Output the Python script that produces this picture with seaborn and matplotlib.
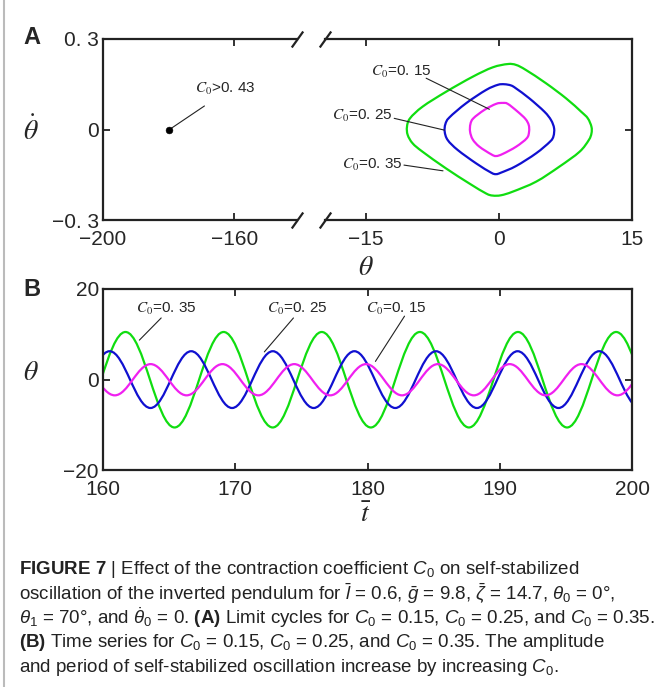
import numpy as np
import matplotlib.pyplot as plt
import seaborn as sns
from matplotlib.path import Path
from matplotlib.patches import PathPatch
from matplotlib.lines import Line2D

sns.set_style("ticks")
plt.rcParams['font.family'] = ['Liberation Sans', 'DejaVu Sans']
plt.rcParams['mathtext.fontset'] = 'custom'
plt.rcParams['mathtext.rm'] = 'Liberation Sans'
plt.rcParams['mathtext.it'] = 'Liberation Sans:italic'
plt.rcParams['mathtext.bf'] = 'Liberation Sans:bold'

# ---- data: limit cycles (theta, theta_dot) ----
c35_theta = [1.00, 1.94, 3.06, 5.32, 7.58, 9.27, 10.02, 10.43, 10.43, 10.13, 9.08, 6.82, 4.19, 1.56,
             0.24, -0.70, -1.45, -3.33, -5.96, -8.59, -9.72, -10.28, -10.36, -10.02, -8.59, -5.96, -2.95, -0.70]
c35_dtheta = [0.217, 0.214, 0.197, 0.153, 0.103, 0.059, 0.037, 0.009, -0.013, -0.035, -0.074, -0.123, -0.173, -0.206,
              -0.218, -0.219, -0.212, -0.179, -0.129, -0.074, -0.046, -0.018, 0.009, 0.037, 0.076, 0.125, 0.175, 0.206]
c25_theta = [0.62, 1.37, 1.94, 3.44, 5.13, 5.88, 6.22, 6.15, 5.77, 4.19, 1.94, 0.24,
             -0.32, -0.88, -2.58, -4.64, -5.77, -6.11, -6.03, -5.58, -3.70, -1.45, -0.13]
c25_dtheta = [0.150, 0.146, 0.136, 0.103, 0.059, 0.031, 0.004, -0.022, -0.040, -0.079, -0.121, -0.143,
              -0.148, -0.143, -0.112, -0.068, -0.035, -0.007, 0.018, 0.040, 0.087, 0.131, 0.148]
c15_theta = [0.43, 1.00, 2.12, 2.99, 3.36, 3.40, 3.14, 1.94, 0.43, -0.32, -0.88, -2.20, -2.95, -3.25,
             -3.21, -2.88, -1.64, -0.32]
c15_dtheta = [0.088, 0.085, 0.059, 0.035, 0.015, -0.007, -0.029, -0.057, -0.081, -0.088, -0.082, -0.057, -0.033, -0.007,
              0.018, 0.037, 0.065, 0.085]
fixed_point = [-180, 0]

# ---- data: time series extrema (t, theta) ----
g_t = [157.99, 161.70, 165.41, 169.12, 172.83, 176.54, 180.25, 183.96, 187.67, 191.38, 195.09, 198.80, 202.51]
g_v = [-10.6, 10.5, -10.6, 10.5, -10.6, 10.5, -10.6, 10.5, -10.6, 10.5, -10.6, 10.5, -10.6]
b_t = [157.42, 160.50, 163.59, 166.67, 169.76, 172.84, 175.93, 179.01, 182.10, 185.18, 188.27, 191.35, 194.44, 197.52, 200.61]
b_v = [-6.3, 6.25, -6.3, 6.25, -6.3, 6.25, -6.3, 6.25, -6.3, 6.25, -6.3, 6.25, -6.3, 6.25, -6.3]
m_t = [158.17, 160.89, 163.60, 166.32, 169.03, 171.75, 174.46, 177.18, 179.89, 182.61, 185.32, 188.04, 190.75,
       193.47, 196.18, 198.90, 201.61]
m_v = [3.4, -3.5, 3.4, -3.5, 3.4, -3.5, 3.4, -3.5, 3.4, -3.5, 3.4, -3.5, 3.4, -3.5, 3.4, -3.5, 3.4]

GREEN, BLUE, MAGENTA = '#10dd10', '#1010d0', '#f020f0'
INK = '#222222'


def smooth_closed(xs, ys):
    # closed smooth curve through the read points (Catmull-Rom as cubic Bezier)
    p = np.column_stack([xs, ys]).astype(float)
    n = len(p)
    verts, codes = [p[0]], [Path.MOVETO]
    for i in range(n):
        p0, p1, p2, p3 = p[i - 1], p[i], p[(i + 1) % n], p[(i + 2) % n]
        verts += [p1 + (p2 - p0) / 6, p2 - (p3 - p1) / 6, p2]
        codes += [Path.CURVE4] * 3
    return Path(verts, codes)


def wave(ts, vs):
    # smooth curve between successive extrema, flat at each extremum
    verts, codes = [(ts[0], vs[0])], [Path.MOVETO]
    for t0, v0, t1, v1 in zip(ts[:-1], vs[:-1], ts[1:], vs[1:]):
        h = 0.3634 * (t1 - t0)
        verts += [(t0 + h, v0), (t1 - h, v1), (t1, v1)]
        codes += [Path.CURVE4] * 3
    return Path(verts, codes)


W, H = 662, 687
fig = plt.figure(figsize=(W / 100, H / 100), dpi=100)


def box(x0, y0, x1, y1):
    return [x0 / W, 1 - y1 / H, (x1 - x0) / W, (y1 - y0) / H]


axL = fig.add_axes(box(103, 39, 296.7, 220))
axR = fig.add_axes(box(325, 39, 632, 220))
axB = fig.add_axes(box(103, 289, 632, 470))

for ax in (axL, axR, axB):
    for s in ax.spines.values():
        s.set_linewidth(1.6)
        s.set_color(INK)
    ax.tick_params(direction='in', length=5, width=1.3, color=INK, labelsize=15, pad=3, top=True)
    ax.tick_params(axis='x', pad=7)

# panel A, left part of the broken axis
axL.set_xlim(-200, -141)
axL.set_ylim(-0.3, 0.3)
axL.spines['right'].set_visible(False)
axL.set_xticks([-200, -160], ['\u2212200', '\u2212160'])
axL.set_yticks([-0.3, 0, 0.3], ['\u22120. 3', '0', '0. 3'])
axL.tick_params(right=False)
sns.scatterplot(x=[fixed_point[0]], y=[fixed_point[1]], ax=axL, color='black', s=24, edgecolor='black', zorder=5)
axL.plot([-179.2, -169.1], [0.004, 0.078], color=INK, lw=0.8)
axL.text(-162.7, 0.136, r'$\mathit{C}_0$>0. 43', ha='center', va='center', fontsize=11, math_fontfamily='stix')

# panel A, right part
axR.set_xlim(-19.6, 15)
axR.set_ylim(-0.3, 0.3)
axR.spines['left'].set_visible(False)
axR.set_xticks([-15, 0, 15], ['\u221215', '0', '15'])
axR.set_yticks([-0.3, 0, 0.3])
axR.tick_params(left=False, right=True, labelleft=False, labelright=False)
for xs, ys, col in [(c35_theta, c35_dtheta, GREEN), (c25_theta, c25_dtheta, BLUE), (c15_theta, c15_dtheta, MAGENTA)]:
    axR.add_patch(PathPatch(smooth_closed(xs, ys), fill=False, ec=col, lw=1.6))

notesA = [('0. 15', (-11.05, 0.190), (-8.2, 0.170), (-1.07, 0.067)),
          ('0. 25', (-15.4, 0.046), (-11.8, 0.037), (-6.15, -0.002)),
          ('0. 35', (-14.3, -0.118), (-10.7, -0.118), (-6.3, -0.137))]
for lab, txy, p0, p1 in notesA:
    axR.text(*txy, r'$\mathit{C}_0$=' + lab, ha='center', va='center', fontsize=11, math_fontfamily='stix')
    axR.plot([p0[0], p1[0]], [p0[1], p1[1]], color=INK, lw=0.8)

# break marks
slash = dict(marker=[(-1, -1.4), (1, 1.4)], markersize=11.5, linestyle='none', color=INK,
             mec=INK, mew=1.6, clip_on=False)
axL.plot([1, 1], [0, 1], transform=axL.transAxes, **slash)
axR.plot([0, 0], [0, 1], transform=axR.transAxes, **slash)

# panel B
axB.set_xlim(160, 200)
axB.set_ylim(-20, 20)
axB.set_xticks([160, 170, 180, 190, 200])
axB.set_yticks([-20, 0, 20], ['\u221220', '0', '20'])
axB.tick_params(right=True)
for ts, vs, col in [(g_t, g_v, GREEN), (b_t, b_v, BLUE), (m_t, m_v, MAGENTA)]:
    axB.add_patch(PathPatch(wave(ts, vs), fill=False, ec=col, lw=1.6))

notesB = [('0. 35', (164.8, 15.6), (164.4, 13.6), (162.75, 8.7)),
          ('0. 25', (174.7, 15.6), (174.4, 13.6), (172.2, 6.1)),
          ('0. 15', (182.2, 15.6), (182.8, 14.0), (180.6, 4.0))]
for lab, txy, p0, p1 in notesB:
    axB.text(*txy, r'$\mathit{C}_0$=' + lab, ha='center', va='center', fontsize=11, math_fontfamily='stix')
    axB.plot([p0[0], p1[0]], [p0[1], p1[1]], color=INK, lw=0.8)

# labels
def ftext(x, y, s, **kw):
    fig.text(x / W, 1 - y / H, s, ha='center', va='center', **kw)

ftext(32, 38, 'A', fontsize=17, fontweight='bold')
ftext(32, 289, 'B', fontsize=17, fontweight='bold')
ftext(31, 131, r'$\dot{\theta}$', fontsize=20, math_fontfamily='stix')
ftext(366, 268, r'$\theta$', fontsize=20, math_fontfamily='stix')
ftext(31, 373, r'$\theta$', fontsize=20, math_fontfamily='stix')
ftext(366, 515, r'$\bar{t}$', fontsize=20, math_fontfamily='stix')

caption = [
    r'$\mathbf{FIGURE\ 7}$ | Effect of the contraction coefficient $C_0$ on self-stabilized',
    r'oscillation of the inverted pendulum for $\bar{l}$ = 0.6, $\bar{g}$ = 9.8, $\bar{\zeta}$ = 14.7, $\theta_0$ = 0°,',
    r'$\theta_1$ = 70°, and $\dot{\theta}_0$ = 0. $\mathbf{(A)}$ Limit cycles for $C_0$ = 0.15, $C_0$ = 0.25, and $C_0$ = 0.35.',
    r'$\mathbf{(B)}$ Time series for $C_0$ = 0.15, $C_0$ = 0.25, and $C_0$ = 0.35. The amplitude',
    r'and period of self-stabilized oscillation increase by increasing $C_0$.',
]
for i, line in enumerate(caption):
    fig.text(19 / W, 1 - (569 + 24.6 * i) / H, line, ha='left', va='center', fontsize=13.5, color=INK)

fig.add_artist(Line2D([4 / W, 4 / W], [0, 1], color='#bbbbbb', lw=1.5))

fig.savefig('out.png', dpi=100)
